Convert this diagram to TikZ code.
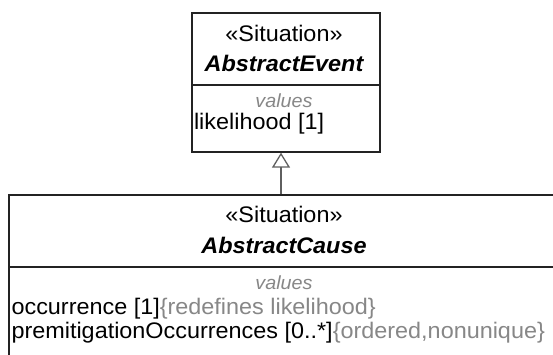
\documentclass[tikz,border=0pt]{standalone}
\usepackage{fontspec}
\setmainfont[FakeStretch=1.04]{Liberation Sans}
\usetikzlibrary{arrows.meta,positioning}

\begin{document}
\begin{tikzpicture}[x=1pt, y=-1pt, every node/.style={inner sep=0pt, font=\fontsize{22.5}{26}\selectfont}]
        \definecolor{umlline}{RGB}{35,35,35}
        \definecolor{umlgray}{RGB}{135,135,135}
        \definecolor{umlarrow}{RGB}{95,95,95}
        \tikzset{
            compartment/.style={draw=umlline, line width=1.3pt, fill=white},
            stereo/.style={anchor=base},
            classname/.style={anchor=base, font=\fontsize{22.5}{26}\selectfont\bfseries\itshape},
            comptitle/.style={anchor=base, text=umlgray, font=\fontsize{19}{23}\selectfont\itshape},
            attr/.style={anchor=base west},
            generalization/.style={draw=umlarrow, line width=1.3pt, -{Triangle[open, length=15pt, width=18pt]}}
        }
        \useasboundingbox (0,0) rectangle (553,354);
        \clip (0,0) rectangle (553,354);

        % AbstractEvent
        \node[compartment, minimum width=188pt, minimum height=72pt] (evthead) at (286,49) {};
        \node[compartment, minimum width=188pt, minimum height=67pt] (evtbody) at (286,118.5) {};
        \node[stereo] (evtstereo) at ([xshift=-2pt, yshift=-29pt]evthead.north) {«Situation»};
        \node[classname] (evtname) at ([xshift=-2pt, yshift=-59pt]evthead.north) {AbstractEvent};
        \node[comptitle] (evtvalues) at ([xshift=-2pt, yshift=-23pt]evtbody.north) {values};
        \node[attr] (likelihood) at ([xshift=2.5pt, yshift=-45pt]evtbody.north west) {likelihood [1]};

        % AbstractCause
        \node[compartment, minimum width=550pt, minimum height=72pt] (causehead) at (284,231) {};
        \node[compartment, minimum width=550pt, minimum height=120pt] (causebody) at (284,327) {};
        \node[stereo] (causestereo) at ([yshift=-28pt]causehead.north) {«Situation»};
        \node[classname] (causename) at ([yshift=-59pt]causehead.north) {AbstractCause};
        \node[comptitle] (causevalues) at ([yshift=-23pt]causebody.north) {values};
        \node[attr] (occurrence) at ([xshift=3pt, yshift=-48pt]causebody.north west) {occurrence [1]\textcolor{umlgray}{\{redefines likelihood\}}};
        \node[attr] (premitigation) at ([xshift=3pt, yshift=-72pt]causebody.north west) {premitigationOccurrences [0..*]\textcolor{umlgray}{\{ordered,nonunique\}}};

        % generalization
        \draw[generalization] ([xshift=-3pt]causehead.north) -- ([xshift=-5pt]evtbody.south);
    \end{tikzpicture}
\end{document}
